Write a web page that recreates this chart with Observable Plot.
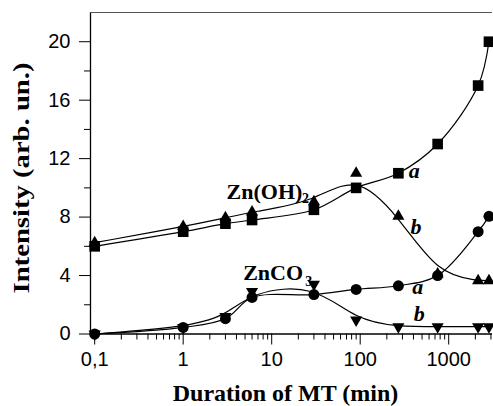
<!DOCTYPE html>
<html>
<head>
<meta charset="utf-8">
<script src="https://cdn.jsdelivr.net/npm/d3@7"></script>
<script src="https://cdn.jsdelivr.net/npm/@observablehq/plot@0.6"></script>
<style>
  html, body { margin: 0; padding: 0; background: #fff; }
  #chart svg { display: block; }
</style>
</head>
<body>
<div id="chart"></div>
<script>
// ---- data ----
const times = [0.1, 1, 3, 6, 30, 90, 270, 750, 2150, 2850];          // min
const znOH_a  = [6.0, 7.0, 7.55, 7.8, 8.5, 10.0, 11.0, 13.0, 17.0, 20.0];   // squares
const znOH_b  = [6.25, 7.35, 7.95, 8.35, 9.05, 11.0, 8.05, 4.1, 3.65, 3.65]; // triangles up
const znCO3_a = [0.0, 0.45, 1.05, 2.5, 2.7, 3.05, 3.3, 4.0, 7.0, 8.05];   // circles
const znCO3_b = [0.0, 0.45, 1.2, 2.9, 3.4, 0.95, 0.5, 0.5, 0.5, 0.5];     // triangles down

const xMajor = [0.1, 1, 10, 100, 1000];
const xMinor = [0.2,0.3,0.4,0.5,0.6,0.7,0.8,0.9, 2,3,4,5,6,7,8,9, 20,30,40,50,60,70,80,90, 200,300,400,500,600,700,800,900, 2000,3000];
const yMajor = [0, 4, 8, 12, 16, 20];
const yMinor = [2, 6, 10, 14, 18];

const xTitle = "Duration of MT (min)";
const yTitle = "Intensity (arb. un.)";

// annotations (data coordinates)
const compoundLabels = [
  {text: "Zn(OH)", x: 3.09, y: 9.22},
  {text: "ZnCO",   x: 4.76, y: 3.72}
];
const subscriptLabels = [
  {text: "2", x: 22.0, y: 8.95},
  {text: "3", x: 24.0, y: 3.3}
];
const seriesLabels = [
  {text: "a", x: 354, y: 10.69},
  {text: "b", x: 370, y: 6.83},
  {text: "a", x: 387, y: 2.74},
  {text: "b", x: 403, y: 0.92}
];

// ---- build tables ----
const rows = (vals) => times.map((t, i) => ({t, v: vals[i]}));
const sqA = rows(znOH_a), triB = rows(znOH_b), cirA = rows(znCO3_a), dtriB = rows(znCO3_b);

const downTriangle = {
  draw(ctx, size) {
    const y = Math.sqrt(size / (Math.sqrt(3) * 3));
    ctx.moveTo(0, 2 * y);
    ctx.lineTo(Math.sqrt(3) * y, -y);
    ctx.lineTo(-Math.sqrt(3) * y, -y);
    ctx.closePath();
  }
};

const serif = "Liberation Serif, Times New Roman, serif";
const sans = "Liberation Sans, Arial, sans-serif";
const xDom = [0.0897, 3125];

const chart = Plot.plot({
  width: 493,
  height: 406,
  marginLeft: 90,
  marginRight: 1,
  marginTop: 12,
  marginBottom: 72.5,
  style: {background: "white", color: "black", fontFamily: sans, fontSize: "20px", overflow: "visible"},
  x: {type: "log", domain: xDom, axis: null},
  y: {domain: [0, 22], axis: null},
  marks: [
    // frame lines
    Plot.ruleY([0], {stroke: "black", strokeWidth: 1.3}),
    Plot.ruleX([xDom[0]], {stroke: "black", strokeWidth: 1.3}),
    Plot.ruleY([22], {stroke: "#555", strokeWidth: 1.2}),
    // axes
    Plot.axisY(yMajor, {tickSize: 11, tickPadding: 9, fontSize: 20, fontFamily: sans, label: null, stroke: "black"}),
    Plot.axisY(yMinor, {tickSize: 6, tickFormat: () => "", label: null, stroke: "black"}),
    Plot.axisX(xMajor, {tickSize: 11, tickPadding: 7, fontSize: 20, fontFamily: sans, label: null, stroke: "black",
      tickFormat: d => d === 0.1 ? "0,1" : String(d)}),
    Plot.axisX(xMinor, {tickSize: 6, tickFormat: () => "", label: null, stroke: "black"}),
    // curves
    Plot.line(sqA,   {x: "t", y: "v", curve: "catmull-rom", stroke: "black", strokeWidth: 1.2}),
    Plot.line(triB,  {x: "t", y: "v", curve: "basis",       stroke: "black", strokeWidth: 1.2}),
    Plot.line(cirA,  {x: "t", y: "v", curve: "catmull-rom", stroke: "black", strokeWidth: 1.2}),
    Plot.line(dtriB, {x: "t", y: "v", curve: "basis",       stroke: "black", strokeWidth: 1.2}),
    // markers
    Plot.dot(dtriB, {x: "t", y: "v", symbol: downTriangle, r: 4.5, fill: "black", stroke: "none"}),
    Plot.dot(triB,  {x: "t", y: "v", symbol: "triangle", r: 4.5, fill: "black", stroke: "none"}),
    Plot.dot(cirA,  {x: "t", y: "v", symbol: "circle", r: 5.5, fill: "black", stroke: "none"}),
    Plot.dot(sqA,   {x: "t", y: "v", symbol: "square", r: 6, fill: "black", stroke: "none"}),
    // annotations
    Plot.text(compoundLabels, {x: "x", y: "y", text: "text", textAnchor: "start", lineAnchor: "bottom",
      fontFamily: serif, fontWeight: "bold", fontSize: 22, fill: "black"}),
    Plot.text(subscriptLabels, {x: "x", y: "y", text: "text", textAnchor: "start", lineAnchor: "bottom",
      fontFamily: serif, fontWeight: "bold", fontSize: 14, fill: "black"}),
    Plot.text(seriesLabels, {x: "x", y: "y", text: "text", textAnchor: "start", lineAnchor: "bottom",
      fontFamily: serif, fontWeight: "bold", fontStyle: "italic", fontSize: 22, fill: "black"}),
    // axis titles
    Plot.text([xTitle], {text: d => d, frameAnchor: "bottom", dy: 67, dx: -6, lineAnchor: "bottom",
      fontFamily: serif, fontWeight: "bold", fontSize: 24, fill: "black"}),
    Plot.text([yTitle], {text: d => d, frameAnchor: "left", dx: -61.5, dy: 120.25, rotate: -90,
      textAnchor: "start", lineAnchor: "bottom",
      fontFamily: serif, fontWeight: "bold", fontSize: 24, fill: "black"})
  ]
});

document.getElementById("chart").appendChild(chart);

d3.select(chart).selectAll("text")
  .filter(function () { return this.textContent === yTitle; })
  .attr("textLength", 231)
  .attr("lengthAdjust", "spacingAndGlyphs");
</script>
</body>
</html>
